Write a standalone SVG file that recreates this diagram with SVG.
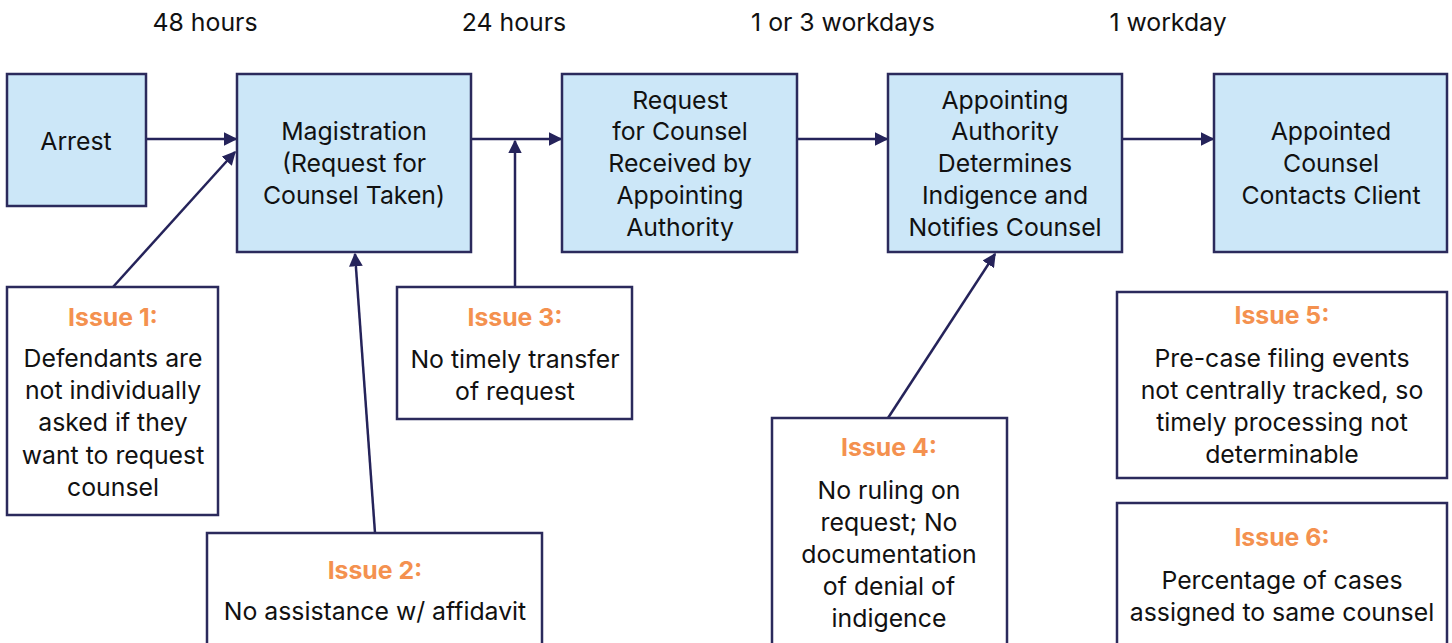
<svg xmlns="http://www.w3.org/2000/svg" width="1452" height="643" viewBox="0 0 1452 643">
<style>
.step{fill:#cce7f8;stroke:#2b2a5c;stroke-width:2.5}
.issue{fill:#ffffff;stroke:#2b2a5c;stroke-width:2.5}
text{font-family:Inter,Roboto,"Liberation Sans",sans-serif;font-size:24.8px;fill:#111;text-anchor:middle}
.lbl{font-weight:700;fill:#f4914f}
.conn{stroke:#25235a;stroke-width:2.5;fill:none;marker-end:url(#ah)}
</style>
<defs>
<marker id="ah" viewBox="0 0 10 10" refX="9" refY="5" markerWidth="5.5" markerHeight="5.5" orient="auto" markerUnits="strokeWidth">
<path d="M0,0 L10,5 L0,10 Z" fill="#25235a"/>
</marker>
</defs>
<rect width="1452" height="643" fill="#ffffff"/>
<g id="times">
<text x="205" y="31">48 hours</text>
<text x="514" y="31">24 hours</text>
<text x="843" y="31">1 or 3 workdays</text>
<text x="1168" y="31">1 workday</text>
</g>
<g id="connectors">
<line class="conn" x1="146" y1="139" x2="236" y2="139"/>
<line class="conn" x1="471" y1="139" x2="561" y2="139"/>
<line class="conn" x1="797" y1="139" x2="887" y2="139"/>
<line class="conn" x1="1122" y1="139" x2="1213" y2="139"/>
<line class="conn" x1="113" y1="287" x2="235" y2="152"/>
<line class="conn" x1="375" y1="533" x2="355" y2="254"/>
<line class="conn" x1="515" y1="287" x2="515" y2="141"/>
<line class="conn" x1="888" y1="418" x2="995" y2="254"/>
</g>
<g id="arrest">
<rect class="step" x="7" y="74" width="139" height="132"/>
<text x="76" y="150">Arrest</text>
</g>
<g id="magistration">
<rect class="step" x="237" y="74" width="234" height="178"/>
<text x="354" y="140">Magistration</text>
<text x="354" y="172">(Request for</text>
<text x="354" y="204">Counsel Taken)</text>
</g>
<g id="request">
<rect class="step" x="562" y="74" width="235" height="178"/>
<text x="680" y="109">Request</text>
<text x="680" y="140">for Counsel</text>
<text x="680" y="172">Received by</text>
<text x="680" y="204">Appointing</text>
<text x="680" y="236">Authority</text>
</g>
<g id="appointing">
<rect class="step" x="888" y="74" width="234" height="178"/>
<text x="1005" y="109">Appointing</text>
<text x="1005" y="140">Authority</text>
<text x="1005" y="172">Determines</text>
<text x="1005" y="204">Indigence and</text>
<text x="1005" y="236">Notifies Counsel</text>
</g>
<g id="appointed">
<rect class="step" x="1214" y="74" width="233" height="178"/>
<text x="1331" y="140">Appointed</text>
<text x="1331" y="172">Counsel</text>
<text x="1331" y="204">Contacts Client</text>
</g>
<g id="issue1">
<rect class="issue" x="7" y="287" width="211" height="228"/>
<text class="lbl" x="113" y="326">Issue 1:</text>
<text x="113" y="367">Defendants are</text>
<text x="113" y="399">not individually</text>
<text x="113" y="431">asked if they</text>
<text x="113" y="464">want to request</text>
<text x="113" y="496">counsel</text>
</g>
<g id="issue2">
<rect class="issue" x="207" y="533" width="335" height="120"/>
<text class="lbl" x="375" y="579">Issue 2:</text>
<text x="375" y="620">No assistance w/ affidavit</text>
</g>
<g id="issue3">
<rect class="issue" x="397" y="287" width="235" height="132"/>
<text class="lbl" x="515" y="326">Issue 3:</text>
<text x="515" y="368">No timely transfer</text>
<text x="515" y="400">of request</text>
</g>
<g id="issue4">
<rect class="issue" x="772" y="418" width="235" height="235"/>
<text class="lbl" x="889" y="456">Issue 4:</text>
<text x="889" y="499">No ruling on</text>
<text x="889" y="531">request; No</text>
<text x="889" y="563">documentation</text>
<text x="889" y="595">of denial of</text>
<text x="889" y="627">indigence</text>
</g>
<g id="issue5">
<rect class="issue" x="1117" y="292" width="330" height="186"/>
<text class="lbl" x="1282" y="324">Issue 5:</text>
<text x="1282" y="367">Pre-case filing events</text>
<text x="1282" y="399">not centrally tracked, so</text>
<text x="1282" y="431">timely processing not</text>
<text x="1282" y="463">determinable</text>
</g>
<g id="issue6">
<rect class="issue" x="1117" y="503" width="330" height="150"/>
<text class="lbl" x="1282" y="546">Issue 6:</text>
<text x="1282" y="589">Percentage of cases</text>
<text x="1282" y="621">assigned to same counsel</text>
</g>
</svg>
